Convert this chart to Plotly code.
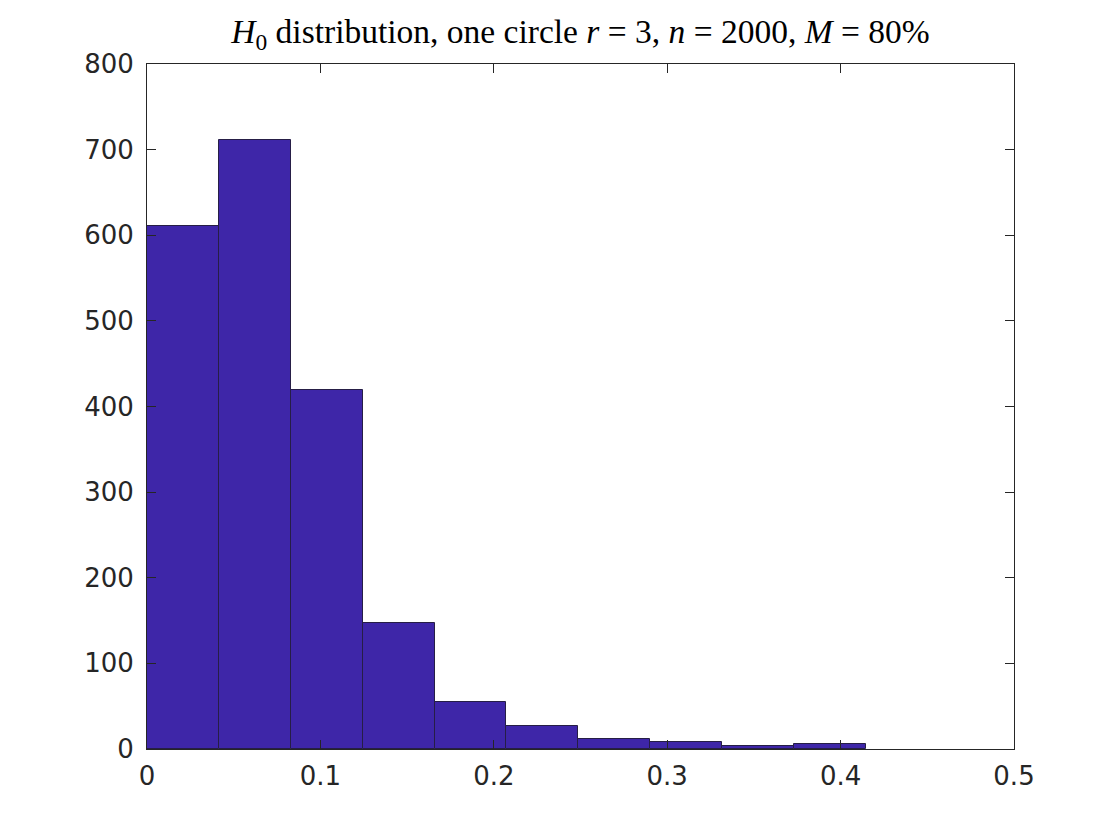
import plotly.graph_objects as go

counts = [611, 711, 419, 147, 55, 27, 12, 8, 4, 6]
bin_start = 0.0
bin_width = 0.04146
x_ticks = [0, 0.1, 0.2, 0.3, 0.4, 0.5]
x_tick_labels = ["0", "0.1", "0.2", "0.3", "0.4", "0.5"]
y_ticks = [0, 100, 200, 300, 400, 500, 600, 700, 800]
y_tick_labels = ["0", "100", "200", "300", "400", "500", "600", "700", "800"]

centers = [bin_start + (i + 0.5) * bin_width for i in range(len(counts))]

fig = go.Figure()
fig.add_trace(go.Bar(
    x=centers, y=counts, width=[bin_width] * len(counts),
    marker=dict(color="rgb(62,38,168)", line=dict(color="rgb(38,30,70)", width=1)),
    showlegend=False,
))

axis_common = dict(
    showgrid=False, zeroline=False, showline=True, linecolor="rgb(38,38,38)",
    linewidth=1, mirror="ticks", ticks="inside", ticklen=9, tickwidth=1,
    tickcolor="rgb(38,38,38)",
    tickfont=dict(family="DejaVu Sans", size=26, color="rgb(38,38,38)"),
)

L, T, PW, PH = 139, 56, 867, 685

fig.update_layout(
    width=1120, height=840,
    paper_bgcolor="white", plot_bgcolor="white",
    margin=dict(l=L, r=1120 - L - PW, t=T, b=840 - T - PH),
    bargap=0,
    title=dict(
        text="<i>H</i><sub>0</sub> distribution, one circle <i>r</i> = 3, <i>n</i> = 2000, <i>M</i> = 80%",
        x=(L + PW / 2) / 1120, xanchor="center",
        y=1 - 35 / 840, yanchor="bottom",
        font=dict(family="Liberation Serif", size=33.5, color="black"),
    ),
    xaxis=dict(range=[0, 0.5], tickvals=x_ticks, ticktext=x_tick_labels,
               ticklabelstandoff=4, **axis_common),
    yaxis=dict(range=[0, 800], tickvals=y_ticks, ticktext=y_tick_labels,
               ticklabelstandoff=7, **axis_common),
)

fig.write_html("out.html")
